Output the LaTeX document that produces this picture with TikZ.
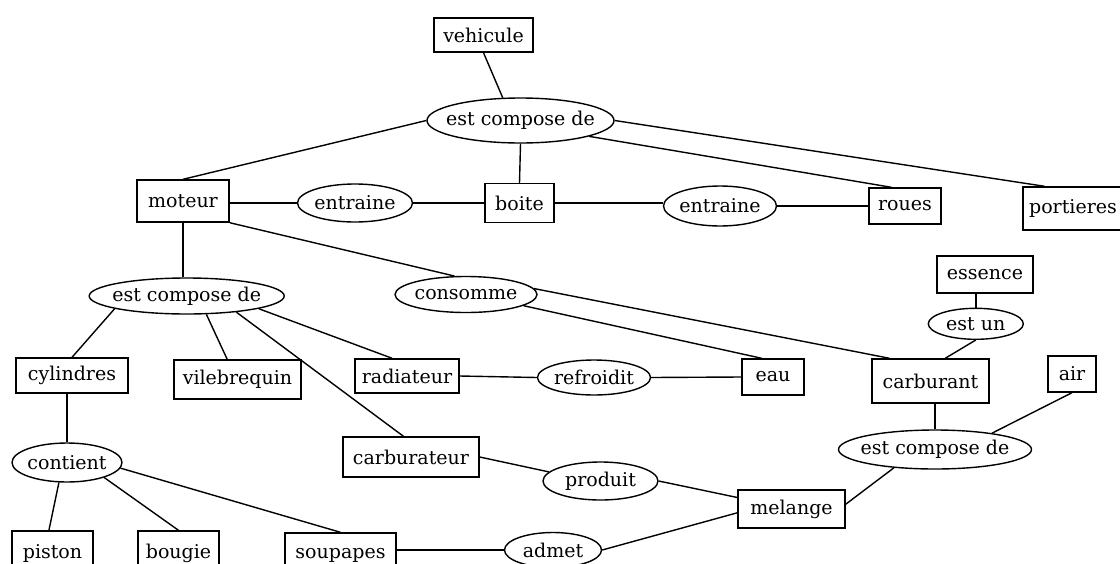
\documentclass[tikz,border=0pt]{standalone}
\usepackage{fontspec}
\setmainfont{DejaVu Serif}
\usetikzlibrary{shapes.geometric}

\newcommand{\reltext}[1]{\makebox[0pt]{#1}}

\begin{document}
\begin{tikzpicture}[x=1pt, y=-1pt, line width=1.4pt,
                    font=\fontsize{19}{22}\selectfont,
                    concept/.style={draw, rectangle, inner sep=0pt},
                    relation/.style={draw, ellipse, inner sep=0pt}
]
\useasboundingbox (0,0) rectangle (1120,563);
\clip (0,0) rectangle (1120,563);

\node [concept, minimum width=99, minimum height=34] at (483.5,35) (vehicule) {vehicule};
\node [relation, minimum width=187, minimum height=45] at (520.5,120.5) (ec1) {\reltext{est compose de}};
\node [concept, minimum width=92, minimum height=42] at (183,201) (moteur) {moteur};
\node [relation, minimum width=115, minimum height=38] at (355,203) (ent1) {\reltext{entraine}};
\node [concept, minimum width=69, minimum height=39] at (519.5,203) (boite) {boite};
\node [relation, minimum width=113, minimum height=40] at (720,206) (ent2) {\reltext{entraine}};
\node [concept, minimum width=72, minimum height=36] at (905,206) (roues) {roues};
\node [concept, minimum width=100, minimum height=43] at (1073,208.5) (portieres) {portieres};
\node [concept, minimum width=96, minimum height=37] at (985,274.5) (essence) {essence};
\node [relation, minimum width=95, minimum height=31] at (975.8,323.8) (estun) {\reltext{est un}};
\node [relation, minimum width=195, minimum height=36] at (186.7,296) (ec2) {\reltext{est compose de}};
\node [relation, minimum width=142, minimum height=36] at (466,294.5) (consomme) {\reltext{consomme}};
\node [concept, minimum width=112, minimum height=35] at (72,375.5) (cylindres) {cylindres};
\node [concept, minimum width=127, minimum height=39] at (237.5,379.5) (vilebrequin) {vilebrequin};
\node [concept, minimum width=104, minimum height=34] at (407,376) (radiateur) {radiateur};
\node [relation, minimum width=113, minimum height=35] at (594,377.5) (refr) {\reltext{refroidit}};
\node [concept, minimum width=62, minimum height=36] at (773,377) (eau) {eau};
\node [concept, minimum width=117, minimum height=44] at (930.5,381) (carburant) {carburant};
\node [concept, minimum width=48, minimum height=36] at (1072,374) (air) {air};
\node [concept, minimum width=136, minimum height=40] at (411,457) (carburateur) {carburateur};
\node [relation, minimum width=110, minimum height=39] at (67,462.5) (contient) {\reltext{contient}};
\node [relation, minimum width=115, minimum height=38] at (600.5,481) (produit) {\reltext{produit}};
\node [relation, minimum width=193, minimum height=39] at (935,449.5) (ec3) {\reltext{est compose de}};
\node [concept, minimum width=107, minimum height=38] at (791.5,509) (melange) {melange};
\node [concept, minimum width=81, minimum height=44] at (52.5,553) (piston) {piston};
\node [concept, minimum width=81, minimum height=44] at (178.5,553) (bougie) {bougie};
\node [concept, minimum width=111, minimum height=44] at (340.5,555) (soupapes) {soupapes};
\node [relation, minimum width=97, minimum height=35] at (553,550) (admet) {\reltext{admet}};

\draw (vehicule.south) -- (ec1.128);
\draw (ec1.west) -- (moteur.north);
\draw (ec1.south) -- (boite.north);
\draw (ec1.347) -- (roues.126);
\draw (ec1.east) -- (portieres.142);
\draw (moteur.east |- ent1.west) -- (ent1.west);
\draw (ent1.east) -- (ent1.east -| boite.west);
\draw (boite.east) -- (boite.east -| ent2.west);
\draw (ent2.east) -- (ent2.east -| roues.west);
\draw (moteur.south) -- (moteur.south |- ec2.north);
\draw (moteur.south east) -- (consomme.122);
\draw (consomme.5) -- (carburant.151);
\draw (consomme.349) -- (eau.121);
\draw (ec2.190) -- (cylindres.north);
\draw (ec2.317) -- (vilebrequin.117);
\draw (ec2.342) -- (carburateur.110);
\draw (ec2.350) -- (radiateur.130);
\draw (radiateur.east) -- (refr.west);
\draw (refr.east) -- (eau.west);
\draw (cylindres.south -| contient.north) -- (contient.north);
\draw (contient.248) -- (piston.99);
\draw (contient.338) -- (bougie.north);
\draw (contient.354) -- (soupapes.north);
\draw (soupapes.east |- admet.west) -- (admet.west);
\draw (carburateur.east) -- (produit.170);
\draw (produit.east) -- (melange.168);
\draw (admet.east) -- (melange.184);
\draw (ec3.204) -- (melange.5);
\draw (ec3.north |- carburant.south) -- (ec3.north);
\draw (air.south) -- (ec3.16);
\draw (estun.north |- essence.south) -- (estun.north);
\draw (estun.south) -- (carburant.57);

\end{tikzpicture}
\end{document}
